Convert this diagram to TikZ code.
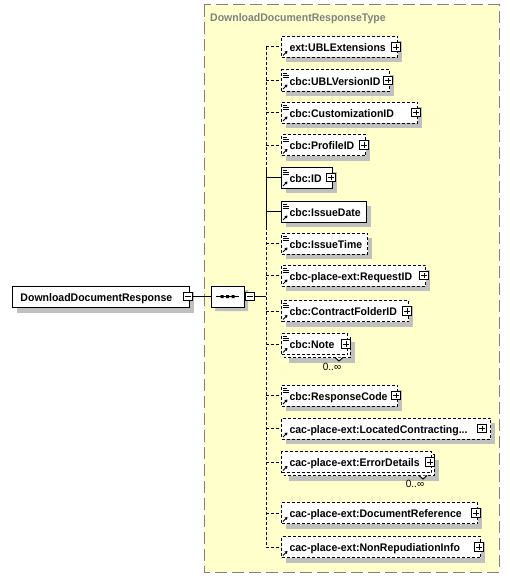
\documentclass[tikz,border=0pt]{standalone}
\usepackage{fontspec}
\setmainfont{Liberation Sans}[FakeStretch=0.955]
\usetikzlibrary{arrows.meta,shapes.misc}
\definecolor{bgyel}{RGB}{255,255,204}
\definecolor{frameg}{RGB}{128,128,128}
\definecolor{shadowg}{RGB}{192,192,192}
\newcommand\labfont{\fontsize{11}{13}\selectfont\bfseries}
\newcommand\multfont{\fontsize{10.5}{12}\selectfont}
\tikzset{
  elbox/.style={draw=black, fill=white, minimum height=21pt, inner xsep=0pt, inner ysep=0pt,
    anchor=west, align=left, font=\labfont, line width=1pt, text height=9pt, text depth=0pt},
  opt/.style={dash pattern=on 3pt off 2pt},
  req/.style={solid},
  conn/.style={line width=1pt},
  xbox/.style={draw=black, fill=white, minimum size=8.5pt, inner sep=0pt, line width=0.8pt},
  seqshape/.style={chamfered rectangle, chamfered rectangle xsep=5pt, chamfered rectangle ysep=5pt,
    minimum width=33pt, minimum height=21pt, inner sep=0pt},
  multlabel/.style={font=\multfont, inner sep=0pt},
}
% element box: #1 name, #2 y centre, #3 right edge, #4 style, #5 label
\newcommand\elemnode[5]{%
  \pgfmathsetmacro\elw{#3-281}%
  \fill[shadowg] (286,#2-5.5) rectangle (#3+5,#2+15.5);
  \node[elbox,#4,text width=\elw pt] (#1) at (281,#2) {\mbox{\hspace{8pt}#5}};
  \draw[line width=1pt,-{Triangle[length=2.6pt,width=3.2pt]}] (283,#2+8.5) -- (287.5,#2+4);
}
% multiple-occurrence element box
\newcommand\multnode[5]{%
  \pgfmathsetmacro\elw{#3-281}%
  \fill[shadowg] (289,#2-2.5) rectangle (#3+8,#2+18.5);
  \draw[line width=1pt,opt,fill=white] (284,#2-7.5) rectangle (#3+3,#2+13.5);
  \draw[line width=1pt,fill=white] (#3-12,#2+13.5) -- (#3-8,#2+17) -- (#3-4,#2+13.5);
  \node[elbox,#4,text width=\elw pt] (#1) at (281,#2) {\mbox{\hspace{8pt}#5}};
  \draw[line width=1pt,-{Triangle[length=2.6pt,width=3.2pt]}] (283,#2+8.5) -- (287.5,#2+4);
}
% simple-content icon
\newcommand\docicon[1]{%
  \draw[line width=0.8pt] (283,#1-7.5) -- (287,#1-7.5) (283,#1-5.5) -- (288.5,#1-5.5) (283,#1-3.5) -- (288.5,#1-3.5);
}
% plus box: #1 name, #2 x, #3 y
\newcommand\xplus[3]{%
  \node[xbox] (#1) at (#2,#3) {};
  \draw[line width=0.8pt] ([xshift=-2.8pt]#1.center) -- ([xshift=2.8pt]#1.center)
    ([yshift=-2.8pt]#1.center) -- ([yshift=2.8pt]#1.center);
}
\newcommand\xminus[3]{%
  \node[xbox] (#1) at (#2,#3) {};
  \draw[line width=0.8pt] ([xshift=-2.8pt]#1.center) -- ([xshift=2.8pt]#1.center);
}
\begin{document}
\begin{tikzpicture}[x=1pt,y=-1pt]
\useasboundingbox (0,0) rectangle (510,578);
% complex type container
\draw[frameg, fill=bgyel, line width=1pt, dash pattern=on 12pt off 5pt] (204,5) rectangle (499,572);
\node[anchor=base west, text=frameg, font=\labfont, inner sep=0pt] (title) at (210,22) {DownloadDocumentResponseType};

% root element
\fill[shadowg] (17,291.5) rectangle (194,312.5);
\node[elbox, text width=177pt] (root) at (12,296.5) {\mbox{\hspace{8pt}DownloadDocumentResponse}};
\xminus{rootm}{188}{296.5}

% sequence compositor
\node[seqshape, fill=shadowg] (seqshadow) at (231.5,300.5) {};
\node[seqshape, draw=black, fill=white, line width=1pt] (seq) at (227.5,296.5) {};
\draw[line width=1pt] (216,296.5) -- (239,296.5);
\fill (220.5,295) rectangle (223.5,298) (226,295) rectangle (229,298) (231.5,295) rectangle (234.5,298);
\xminus{seqm}{250}{296.5}
\draw[conn] (rootm.east) -- (seq.west);
\coordinate (spm) at (266,296.5);
\draw[conn] (seqm.east) -- (spm);

% spine coordinates
\coordinate (sp1) at (266,47);
\coordinate (sp2) at (266,80.5);
\coordinate (sp3) at (266,112.5);
\coordinate (sp4) at (266,145);
\coordinate (sp5) at (266,177.5);
\coordinate (sp6) at (266,211.5);
\coordinate (sp7) at (266,243.5);
\coordinate (sp8) at (266,275.5);
\coordinate (sp9) at (266,311);
\coordinate (sp10) at (266,344);
\coordinate (sp11) at (266,395.5);
\coordinate (sp12) at (266,428.5);
\coordinate (sp13) at (266,462);
\coordinate (sp14) at (266,513);
\coordinate (sp15) at (266,547);
\coordinate (spa) at (266,170);
\coordinate (spb) at (266,227);
\draw[conn,opt] (sp1) -- (spa);
\draw[conn] (spa) -- (spb);
\draw[conn,opt] (spb) -- (sp15);

% elements
\elemnode{e1}{47}{397}{opt}{ext:UBLExtensions}
\xplus{p1}{396}{47}
\elemnode{e2}{80.5}{389}{opt}{cbc:UBLVersionID}
\docicon{80.5}
\xplus{p2}{388}{80.5}
\elemnode{e3}{112.5}{417}{opt}{cbc:CustomizationID}
\docicon{112.5}
\xplus{p3}{416}{112.5}
\elemnode{e4}{145}{365}{opt}{cbc:ProfileID}
\docicon{145}
\xplus{p4}{364}{145}
\elemnode{e5}{177.5}{332}{req}{cbc:ID}
\docicon{177.5}
\xplus{p5}{331}{177.5}
\elemnode{e6}{211.5}{366}{req}{cbc:IssueDate}
\docicon{211.5}
\elemnode{e7}{243.5}{367}{opt}{cbc:IssueTime}
\docicon{243.5}
\elemnode{e8}{275.5}{425}{opt}{cbc-place-ext:RequestID}
\docicon{275.5}
\xplus{p8}{424}{275.5}
\elemnode{e9}{311}{408}{opt}{cbc:ContractFolderID}
\docicon{311}
\xplus{p9}{407}{311}
\multnode{e10}{344}{347}{opt}{cbc:Note}
\docicon{344}
\xplus{p10}{346}{344}
\node[multlabel] (m10) at (332,367) {0..∞};
\elemnode{e11}{395.5}{397}{opt}{cbc:ResponseCode}
\docicon{395.5}
\xplus{p11}{396}{395.5}
\elemnode{e12}{428.5}{490}{opt}{cac-place-ext:LocatedContracting...}
\xplus{p12}{482}{428.5}
\multnode{e13}{462}{431}{opt}{cac-place-ext:ErrorDetails}
\xplus{p13}{430}{462}
\node[multlabel] (m13) at (415,484) {0..∞};
\elemnode{e14}{513}{477}{opt}{cac-place-ext:DocumentReference}
\xplus{p14}{476}{513}
\elemnode{e15}{547}{480}{opt}{cac-place-ext:NonRepudiationInfo}
\xplus{p15}{479}{547}

% connectors
\draw[conn,opt] (sp1) -- (e1.west);
\draw[conn,opt] (sp2) -- (e2.west);
\draw[conn,opt] (sp3) -- (e3.west);
\draw[conn,opt] (sp4) -- (e4.west);
\draw[conn] (sp5) -- (e5.west);
\draw[conn] (sp6) -- (e6.west);
\draw[conn,opt] (sp7) -- (e7.west);
\draw[conn,opt] (sp8) -- (e8.west);
\draw[conn,opt] (sp9) -- (e9.west);
\draw[conn,opt] (sp10) -- (e10.west);
\draw[conn,opt] (sp11) -- (e11.west);
\draw[conn,opt] (sp12) -- (e12.west);
\draw[conn,opt] (sp13) -- (e13.west);
\draw[conn,opt] (sp14) -- (e14.west);
\draw[conn,opt] (sp15) -- (e15.west);
\end{tikzpicture}
\end{document}
